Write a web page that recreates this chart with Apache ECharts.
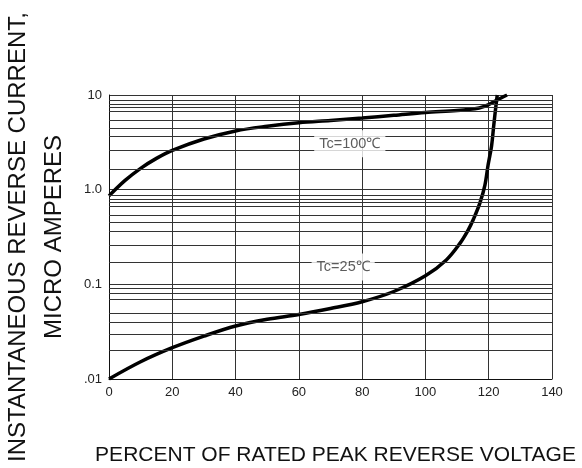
<!DOCTYPE html>
<html>
<head>
<meta charset="utf-8">
<script src="https://cdn.jsdelivr.net/npm/echarts@6/dist/echarts.min.js"></script>
<style>
html,body{margin:0;padding:0;background:#fff;}
#chart{width:582px;height:468px;}
</style>
</head>
<body>
<div id="chart"></div>
<script>
// Percent of rated peak reverse voltage (x) vs reverse current in micro amperes (y)
const hot100X = [0, 5, 10, 15, 20, 30, 40, 50, 60, 70, 80, 90, 100, 110, 117, 120, 122.5, 125.8];
const hot100Y = [0.86, 1.245, 1.68, 2.14, 2.6, 3.43, 4.17, 4.68, 5.1, 5.38, 5.7, 6.1, 6.55, 6.85, 7.3, 7.9, 8.8, 10];
const cold25X = [0, 10, 20, 30, 40, 50, 60, 70, 80, 90, 100, 106.6, 110.9, 113.5, 115.2, 117.2, 118.8, 119.8, 120.9, 121.6, 122.3, 122.7];
const cold25Y = [0.01, 0.0152, 0.0214, 0.0284, 0.0363, 0.0427, 0.048, 0.0555, 0.0655, 0.084, 0.123, 0.181, 0.271, 0.374, 0.49, 0.72, 1.12, 1.82, 2.9, 4.81, 7.8, 10];

const xTicks = [0, 20, 40, 60, 80, 100, 120, 140];
const yDecades = [0.01, 0.1, 1, 10];
const yTickLabels = ['.01', '0.1', '1.0', '10'];
// horizontal grid lines drawn inside each decade (mantissas)
const gridMantissas = [1.65, 2.64, 3.63, 4.47, 5.37, 6.67, 7.35, 8.04, 8.71];

const curveLabels = [
  { name: 'Tc=100\u2103', x: 76.1, y: 3.05 },
  { name: 'Tc=25\u2103', x: 74.0, y: 0.152 }
];

const minorValues = [];
yDecades.slice(0, 3).forEach(d => gridMantissas.forEach(m => minorValues.push(d * m)));

const zip = (xs, ys) => xs.map((x, i) => [x, ys[i]]);
const FONT = '"Liberation Sans", Arial, sans-serif';
const GRIDC = '#333';

const chart = echarts.init(document.getElementById('chart'), null, { renderer: 'canvas' });
chart.setOption({
  animation: false,
  backgroundColor: '#fff',
  grid: { left: 109, right: 30, top: 95, bottom: 89, containLabel: false, outerBoundsMode: 'none' },
  xAxis: {
    type: 'value', min: xTicks[0], max: xTicks[xTicks.length - 1], interval: 20,
    name: 'PERCENT OF RATED PEAK REVERSE VOLTAGE',
    nameLocation: 'middle', nameGap: 66,
    nameTextStyle: { fontFamily: FONT, fontSize: 21, color: '#111', padding: [0, 0, 0, 10] },
    axisLine: { show: true, lineStyle: { color: '#111', width: 1 } },
    axisTick: { show: false },
    axisLabel: { fontFamily: FONT, fontSize: 13, color: '#222', margin: 7 },
    splitLine: { show: true, lineStyle: { color: GRIDC, width: 1 } }
  },
  yAxis: {
    type: 'log', logBase: 10, min: yDecades[0], max: yDecades[yDecades.length - 1],
    name: 'INSTANTANEOUS REVERSE CURRENT,\nMICRO AMPERES',
    nameLocation: 'middle', nameGap: 37, nameRotate: 90,
    nameTextStyle: { fontFamily: FONT, fontSize: 24, lineHeight: 36, color: '#111', align: 'center' },
    axisLine: { show: true, lineStyle: { color: '#111', width: 1 } },
    axisTick: { show: false },
    minorTick: { show: false },
    minorSplitLine: { show: false },
    axisLabel: {
      fontFamily: FONT, fontSize: 13, color: '#222', margin: 7,
      formatter: v => {
        const i = yDecades.findIndex(d => Math.abs(Math.log10(v) - Math.log10(d)) < 1e-6);
        return i >= 0 ? yTickLabels[i] : '';
      }
    },
    splitLine: { show: true, lineStyle: { color: GRIDC, width: 1 } }
  },
  series: [
    {
      type: 'line', data: [], z: 1, silent: true,
      markLine: {
        silent: true, symbol: ['none', 'none'], animation: false,
        label: { show: false },
        lineStyle: { color: GRIDC, width: 1, type: 'solid' },
        emphasis: { disabled: true },
        data: minorValues.map(v => ({ yAxis: v }))
      }
    },
    {
      type: 'line', data: zip(hot100X, hot100Y), smooth: 0.35, showSymbol: false, symbol: 'none',
      lineStyle: { color: '#000', width: 3.5 }, z: 3
    },
    {
      type: 'line', data: zip(cold25X, cold25Y), smooth: 0.35, showSymbol: false, symbol: 'none',
      lineStyle: { color: '#000', width: 3.5 }, z: 3
    },
    {
      type: 'scatter', z: 5, symbolSize: 1, itemStyle: { color: 'rgba(0,0,0,0)' },
      data: curveLabels.map(l => ({ name: l.name, value: [l.x, l.y] })),
      label: {
        show: true, position: 'inside', formatter: p => p.name,
        fontFamily: FONT, fontSize: 14.5, color: '#333',
        backgroundColor: '#fff', padding: [6, 5]
      },
      emphasis: { disabled: true }
    }
  ]
});
</script>
</body>
</html>
